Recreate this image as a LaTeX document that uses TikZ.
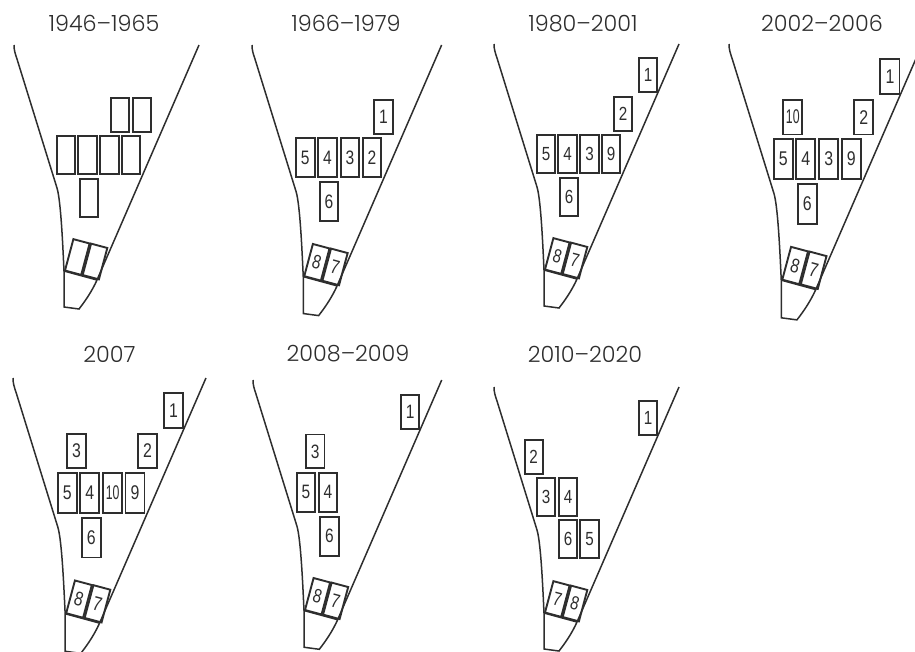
\documentclass[tikz,border=0pt]{standalone}
\usepackage{fontspec}
\setmainfont{Poppins}[UprightFont=* Light]
\newfontfamily\boxfont[FakeStretch=0.8]{Liberation Sans}
\newfontfamily\tenfont[FakeStretch=0.62]{Liberation Sans}
\definecolor{inkgrey}{HTML}{2E2E2E}
\tikzset{
  outline/.pic={
    % Left side, neck and tail
    \draw[outlineline] (0,0) .. controls (0,5) and (1,8) .. (3,14) -- (43,143)
      .. controls (47,156) and (49,205) .. (50,226) -- (50,262) -- (65,264)
      .. controls (72,255) and (78,246) .. (83,235) -- (185,0);
    \draw[outlineline] (50,226) -- (83,235);
  },
  outlineline/.style={draw=inkgrey, line width=1.5pt},
  tallbox/.style={draw=inkgrey, line width=1.9pt, inner sep=0pt, minimum width=18.2pt,
    minimum height=38.2pt, text=inkgrey, font=\boxfont\fontsize{19}{19}\selectfont},
  shortbox/.style={tallbox, minimum height=33.2pt},
  tiltbox/.style={tallbox, minimum width=16.8pt, minimum height=32.5pt, rotate=-15},
  tenbox/.style={font=\tenfont\fontsize{19}{19}\selectfont},
  yearlabel/.style={text=inkgrey, inner sep=0pt, font=\fontsize{22.3}{23}\selectfont},
}

\begin{document}
\begin{tikzpicture}[x=1pt, y=-1pt]
  \clip (0,0) rectangle (915,651);

  % Year labels
  \node[yearlabel] (ya) at (104,23.5) {1946–1965};
  \node[yearlabel] (yb) at (346,23.5) {1966–1979};
  \node[yearlabel] (yc) at (583,23.5) {1980–2001};
  \node[yearlabel] (yd) at (822,23.5) {2002–2006};
  \node[yearlabel] (ye) at (109.5,354) {2007};
  \node[yearlabel] (yf) at (348,354) {2008–2009};
  \node[yearlabel] (yg) at (585,354) {2010–2020};

  % 1946-1965
  \begin{scope}[shift={(14,45)}, transform shape]
    \pic {outline};
    \node[shortbox] (a1) at (106.2,70) {};
    \node[shortbox] (a2) at (128.3,70) {};
    \node[tallbox] (a3) at (52,110) {};
    \node[tallbox] (a4) at (73.5,110) {};
    \node[tallbox] (a5) at (95.5,110) {};
    \node[tallbox] (a6) at (117,110) {};
    \node[tallbox] (a7) at (75,153) {};
    \node[tiltbox] (a8) at (63.3,212) {};
    \node[tiltbox] (a9) at (81,216.5) {};
  \end{scope}

  % 1966-1979
  \begin{scope}[shift={(252,45)}, scale=1.025, transform shape]
    \pic {outline};
    \node[shortbox] (b1) at (128.3,70) {1};
    \node[tallbox] (b5) at (52,110) {5};
    \node[tallbox] (b4) at (73.5,110) {4};
    \node[tallbox] (b3) at (95.5,110) {3};
    \node[tallbox] (b2) at (117,110) {2};
    \node[tallbox] (b6) at (75,153) {6};
    \node[tiltbox] (b8) at (63.3,212) {8};
    \node[tiltbox] (b7) at (81,216.5) {7};
  \end{scope}

  % 1980-2001
  \begin{scope}[shift={(494,44)}, transform shape]
    \pic {outline};
    \node[shortbox] (c1) at (154,31) {1};
    \node[shortbox] (c2) at (129,70) {2};
    \node[tallbox] (c5) at (52,110) {5};
    \node[tallbox] (c4) at (73.5,110) {4};
    \node[tallbox] (c3) at (95.5,110) {3};
    \node[tallbox] (c9) at (117,110) {9};
    \node[tallbox] (c6) at (75,153) {6};
    \node[tiltbox] (c8) at (63.3,212) {8};
    \node[tiltbox] (c7) at (81,216.5) {7};
  \end{scope}

  % 2002-2006
  \begin{scope}[shift={(729,44)}, scale=1.045, transform shape]
    \pic {outline};
    \node[shortbox] (d1) at (154,31) {1};
    \node[shortbox, tenbox] (d10) at (61,70) {10};
    \node[shortbox] (d2) at (129,70) {2};
    \node[tallbox] (d5) at (52,110) {5};
    \node[tallbox] (d4) at (73.5,110) {4};
    \node[tallbox] (d3) at (95.5,110) {3};
    \node[tallbox] (d9) at (117,110) {9};
    \node[tallbox] (d6) at (75,153) {6};
    \node[tiltbox] (d8) at (63.3,212) {8};
    \node[tiltbox] (d7) at (81,216.5) {7};
  \end{scope}

  % 2007
  \begin{scope}[shift={(13,378)}, scale=1.043, transform shape]
    \pic {outline};
    \node[shortbox] (e1) at (154,31) {1};
    \node[shortbox] (e3) at (61,70) {3};
    \node[shortbox] (e2) at (129,70) {2};
    \node[tallbox] (e5) at (52,110) {5};
    \node[tallbox] (e4) at (73.5,110) {4};
    \node[tallbox, tenbox] (e10) at (95.5,110) {10};
    \node[tallbox] (e9) at (117,110) {9};
    \node[tallbox] (e6) at (75,153) {6};
    \node[tiltbox] (e8) at (63.3,212) {8};
    \node[tiltbox] (e7) at (81,216.5) {7};
  \end{scope}

  % 2008-2009
  \begin{scope}[shift={(253,380)}, scale=1.02, transform shape]
    \pic {outline};
    \node[shortbox] (f1) at (154,31) {1};
    \node[shortbox] (f3) at (61,70) {3};
    \node[tallbox] (f5) at (52,110) {5};
    \node[tallbox] (f4) at (73.5,110) {4};
    \node[tallbox] (f6) at (75,153) {6};
    \node[tiltbox] (f8) at (63.3,212) {8};
    \node[tiltbox] (f7) at (81,216.5) {7};
  \end{scope}

  % 2010-2020
  \begin{scope}[shift={(494,387)}, transform shape]
    \pic {outline};
    \node[shortbox] (g1) at (154,31) {1};
    \node[shortbox] (g2) at (39.7,70) {2};
    \node[tallbox] (g3) at (52,110) {3};
    \node[tallbox] (g4) at (74,110) {4};
    \node[tallbox] (g6) at (74,152) {6};
    \node[tallbox] (g5) at (95.5,152) {5};
    \node[tiltbox] (g7) at (63.3,212) {7};
    \node[tiltbox] (g8) at (81,216.5) {8};
  \end{scope}
\end{tikzpicture}
\end{document}
